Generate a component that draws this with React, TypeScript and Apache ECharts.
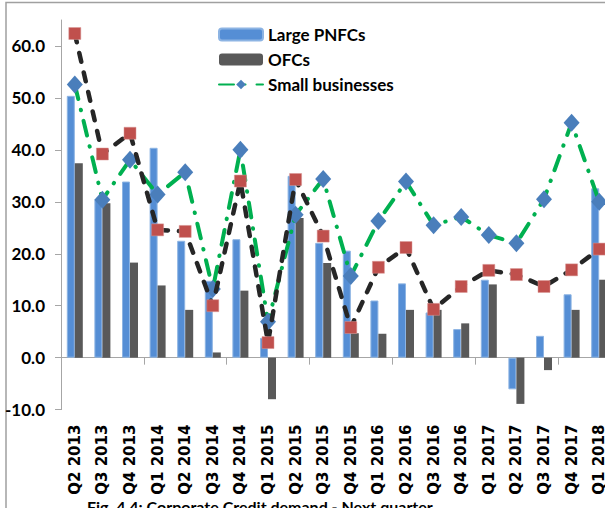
import React, { useEffect, useRef } from "react";
import * as echarts from "echarts";

const categories = [
  "Q2 2013", "Q3 2013", "Q4 2013", "Q1 2014", "Q2 2014", "Q3 2014", "Q4 2014",
  "Q1 2015", "Q2 2015", "Q3 2015", "Q4 2015", "Q1 2016", "Q2 2016", "Q3 2016",
  "Q4 2016", "Q1 2017", "Q2 2017", "Q3 2017", "Q4 2017", "Q1 2018",
];
const largePNFCs = [50.4, 30.5, 33.9, 40.4, 22.5, 14.8, 22.8, 3.8, 35.0, 22.1, 20.6, 11.0, 14.3, 8.7, 5.5, 15.0, -6.1, 4.2, 12.2, 32.6];
const ofcs = [37.4, 29.7, 18.3, 13.9, 9.2, 1.0, 12.9, -8.0, 26.9, 18.2, 4.7, 4.6, 9.2, 9.2, 6.6, 14.1, -8.9, -2.4, 9.2, 15.0];
const smallBusinesses = [52.6, 30.4, 38.1, 31.4, 35.7, 13.2, 40.0, 6.9, 27.5, 34.4, 15.7, 26.3, 33.9, 25.5, 27.1, 23.6, 22.0, 30.5, 45.2, 30.0];
const overall = [62.4, 39.2, 43.2, 24.6, 24.3, 10.0, 34.0, 2.9, 34.3, 23.4, 5.8, 17.4, 21.2, 9.3, 13.7, 16.8, 16.0, 13.7, 16.9, 20.9];
const yTicks = [-10, 0, 10, 20, 30, 40, 50, 60];
const caption = "Fig. 4.4: Corporate Credit demand - Next quarter";

const FONT = '"Liberation Sans Narrow", Lato, sans-serif';
const XFONT = '"DejaVu Sans", sans-serif';

export default function App() {
  const ref = useRef<HTMLDivElement>(null);
  useEffect(() => {
    if (!ref.current) return;
    const chart = echarts.init(ref.current, null, { renderer: "svg" });
    chart.setOption({
      animation: false,
      backgroundColor: "#ffffff",
      grid: { left: 61, top: 20, width: 552, height: 389.6, containLabel: false },
      legend: {
        orient: "vertical",
        left: 213,
        top: 21,
        itemWidth: 44,
        itemHeight: 12,
        itemGap: 8,
        data: ["Large PNFCs", "OFCs", "Small businesses"],
        textStyle: { fontFamily: FONT, fontWeight: "bold", fontSize: 17, color: "#000" },
      },
      xAxis: [
        {
          type: "category",
          data: categories,
          axisLine: { onZero: true, lineStyle: { color: "#a6a6a6", width: 1 } },
          axisTick: { show: true, alignWithLabel: false, length: 7, lineStyle: { color: "#a6a6a6" } },
          axisLabel: { show: false },
          splitLine: { show: false },
        },
        {
          type: "category",
          data: categories,
          position: "bottom",
          axisLine: { show: false, onZero: false },
          axisTick: { show: false },
          axisLabel: {
            rotate: 90,
            margin: 15,
            interval: 0,
            fontFamily: XFONT,
            fontWeight: "bold",
            fontSize: 15,
            color: "#000",
          },
        },
      ],
      yAxis: {
        type: "value",
        min: -10,
        max: 65,
        interval: 5,
        axisLine: { show: true, lineStyle: { color: "#a6a6a6", width: 1 } },
        axisTick: { show: true, length: 6, customValues: yTicks, lineStyle: { color: "#a6a6a6" } },
        axisLabel: {
          customValues: yTicks,
          formatter: (v: number) => v.toFixed(1),
          margin: 16,
          fontFamily: FONT,
          fontWeight: "bold",
          fontSize: 17,
          color: "#000",
        },
        splitLine: { show: false },
      },
      series: [
        {
          name: "Large PNFCs",
          type: "bar",
          data: largePNFCs,
          barWidth: 8,
          barGap: "0%",
          itemStyle: { color: "#558ED5", borderColor: "#8DB4E3", borderWidth: 1 },
        },
        {
          name: "OFCs",
          type: "bar",
          data: ofcs,
          barWidth: 8,
          barGap: "0%",
          itemStyle: { color: "#595959" },
        },
        {
          name: "Small businesses",
          type: "line",
          data: smallBusinesses,
          symbol: "diamond",
          symbolSize: [16, 18],
          showAllSymbol: true,
          itemStyle: { color: "#4A7EBB" },
          lineStyle: { color: "#00B050", width: 4, type: [15, 11, 0.5, 11], cap: "round" },
          z: 3,
        },
        {
          name: "Overall",
          type: "line",
          data: overall,
          symbol: "rect",
          symbolSize: 12,
          showAllSymbol: true,
          itemStyle: { color: "#C0504D", borderColor: "#D99694", borderWidth: 0.5 },
          lineStyle: { color: "#262626", width: 4.5, type: [9, 11], cap: "round" },
          z: 4,
        },
      ],
      graphic: [
        {
          type: "rect",
          z: -10,
          shape: { x: 6, y: 2.5, width: 700, height: 620 },
          style: { fill: "none", stroke: "#a0a0a0", lineWidth: 1.5 },
        },
        {
          type: "text",
          x: 87,
          y: 498,
          style: {
            text: caption,
            fontFamily: FONT,
            fontWeight: "bold",
            fontSize: 16,
            fill: "#000",
            textVerticalAlign: "top",
          },
        },
      ],
    });
    return () => chart.dispose();
  }, []);
  return (
    <div style={{ position: "fixed", left: 0, top: 0, width: 605, height: 508, overflow: "hidden", background: "#fff" }}>
      <div ref={ref} style={{ width: 640, height: 520 }} />
    </div>
  );
}
